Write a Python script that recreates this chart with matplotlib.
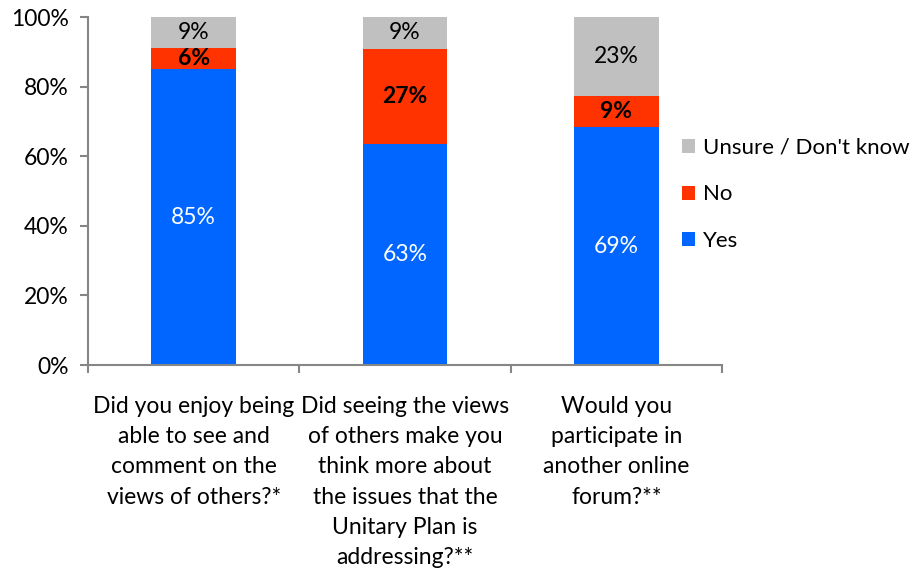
import matplotlib
matplotlib.use("Agg")
import matplotlib.pyplot as plt
import numpy as np

categories = [
    "Did you enjoy being\nable to see and\ncomment on the\nviews of others?*",
    "Did seeing the views\nof others make you\nthink more about\nthe issues that the\nUnitary Plan is\naddressing?**",
    "Would you\nparticipate in\nanother online\nforum?**",
]
yes = [85, 63, 69]
no = [6, 27, 9]
unsure = [9, 9, 23]

series_names = ["Yes", "No", "Unsure / Don't know"]
colors = ["#0066FF", "#FF3300", "#C0C0C0"]
label_colors = ["white", "black", "black"]
label_weights = ["normal", "bold", "normal"]

plt.rcParams["font.family"] = ["Lato", "DejaVu Sans"]
FS = 16.5

fig = plt.figure(figsize=(9.13, 5.74), dpi=100)
ax = fig.add_axes([88 / 913, 1 - 365 / 574, (722 - 88) / 913, (365 - 17) / 574])

vals = np.array([yes, no, unsure], dtype=float)
shares = vals / vals.sum(axis=0) * 100  # 100% stacked
x = np.arange(len(categories))
bottom = np.zeros(len(categories))
handles = []
for i, name in enumerate(series_names):
    b = ax.bar(x, shares[i], 0.40, bottom=bottom, color=colors[i], label=name)
    handles.append(b)
    for xi, bt, h, v in zip(x, bottom, shares[i], vals[i]):
        ax.text(xi, bt + h / 2, f"{v:.0f}%", ha="center", va="center",
                fontsize=FS, color=label_colors[i], fontweight=label_weights[i])
    bottom += shares[i]

ax.set_xlim(-0.5, 2.5)
ax.set_ylim(0, 100)
ax.set_yticks(np.arange(0, 101, 20))
ax.set_yticklabels([f"{t}%" for t in range(0, 101, 20)], fontsize=FS)
ax.set_xticks(x)
ax.set_xticklabels(categories, fontsize=FS, linespacing=1.55, va="top")
ax.set_xticks([-0.5, 0.5, 1.5, 2.5], minor=True)
ax.tick_params(axis="x", which="major", length=0, pad=22)
ax.tick_params(axis="x", which="minor", length=6, color="#868686", width=1.5)
ax.tick_params(axis="y", length=6, color="#868686", width=1.5, pad=8)

for s in ["top", "right"]:
    ax.spines[s].set_visible(False)
for s in ["left", "bottom"]:
    ax.spines[s].set_color("#868686")
    ax.spines[s].set_linewidth(1.5)

ax.legend(handles[::-1], series_names[::-1], loc="center left",
          bbox_to_anchor=(0.937, 0.49), frameon=False, fontsize=16,
          handlelength=0.6, handleheight=0.6, handletextpad=0.35,
          labelspacing=1.2, borderaxespad=0, borderpad=0)

fig.savefig("out.png", dpi=100)
